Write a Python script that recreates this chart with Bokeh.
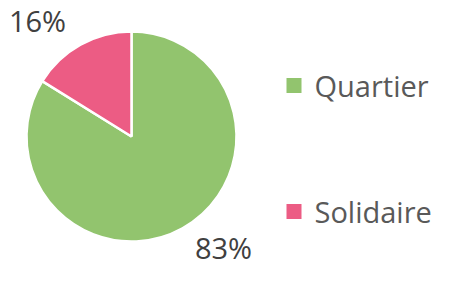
import math
from bokeh.plotting import figure
from bokeh.models import Range1d, ColumnDataSource
from bokeh.core.properties import value
from bokeh.embed import file_html
from bokeh.resources import INLINE

# ---- data ----
categories = ["Quartier", "Solidaire"]
percents = [83, 16]
colors = ["#92C46E", "#EC5C84"]

# ---- layout constants (reference pixel coordinates, y measured from top) ----
PAGE_H = 284
cx, cy, radius = 137, 143, 105

p = figure(width=434, height=268, x_range=Range1d(6, 440), y_range=Range1d(9, 277),
           output_backend="svg", toolbar_location=None, min_border=0)
p.axis.visible = False
p.grid.visible = False
p.outline_line_color = None
p.background_fill_color = "white"

total = sum(percents)
# Solidaire starts at 12 o'clock and goes anticlockwise, Quartier fills the rest
sol_span = 2 * math.pi * percents[1] / total
starts = [math.pi / 2 + sol_span, math.pi / 2]
ends = [math.pi / 2 + 2 * math.pi, math.pi / 2 + sol_span]

src = ColumnDataSource(dict(
    x=[cx] * 2, y=[PAGE_H - cy] * 2, start=starts, end=ends, color=colors,
))
p.wedge(x="x", y="y", radius=radius, start_angle="start", end_angle="end",
        direction="anticlock", fill_color="color", line_color="white", line_width=2.5,
        source=src)

# percentage labels
lab_x = [229, 43]
lab_y = [PAGE_H - 254, PAGE_H - 27]
p.text(x=lab_x, y=lab_y, text=[f"{v}%" for v in percents],
       text_font=value("Open Sans"), text_font_size="29px", text_color="#404040",
       text_align="center", text_baseline="middle")

# legend drawn manually
leg_y = [92, 218]
p.rect(x=[299.5, 299.5], y=[PAGE_H - v for v in leg_y], width=15, height=15,
       fill_color=colors, line_color=None)
p.text(x=[320, 320], y=[PAGE_H - v for v in leg_y], text=categories,
       text_font=value("Open Sans"), text_font_size="29px", text_color="#595959",
       text_align="left", text_baseline="middle")

open("out.html", "w").write(file_html(p, INLINE))
